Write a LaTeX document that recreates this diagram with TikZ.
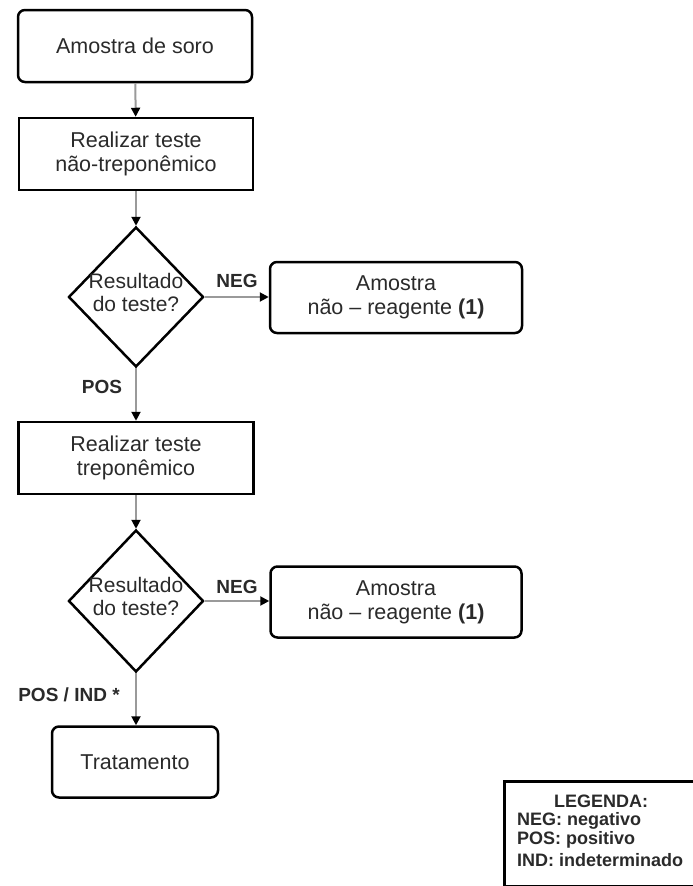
\documentclass[tikz,border=0pt]{standalone}
\usepackage{fontspec}
\setmainfont{Liberation Sans}
\usetikzlibrary{arrows.meta,shapes.geometric}
\definecolor{txt}{HTML}{2A2A2A}
\definecolor{linegray}{HTML}{9A9A9A}
\begin{document}
\begin{tikzpicture}[x=1pt,y=-1pt,
 box/.style={draw=black,line width=2.5pt,minimum width=234pt,minimum height=72pt,inner sep=0pt,align=center,font=\fontsize{21.5}{24}\selectfont,text=txt},
 rbox/.style={box,rounded corners=7pt},
 dia/.style={draw=black,line width=2.5pt,diamond,minimum width=135pt,minimum height=140pt,inner sep=0pt},
 dtext/.style={align=center,font=\fontsize{21}{23}\selectfont,text=txt,inner sep=0pt},
 lbl/.style={font=\bfseries\fontsize{19}{22}\selectfont,text=txt,inner sep=0pt},
 legtext/.style={font=\bfseries\fontsize{18}{20}\selectfont,text=txt,inner sep=0pt},
 arr/.style={draw=linegray,line width=2pt,-{Triangle[length=9pt,width=9pt,color=black]}}
]
\path[use as bounding box] (0,0) rectangle (693,886);
\clip (0,0) rectangle (693,886);

\node[rbox] (n1) at (135,46) {Amostra de soro};
\node[box] (n2) at (136,154) {Realizar teste\\não-treponêmico};
\node[dia] (d1) at (136,297) {};
\node[dtext] (t1) at (136,292) {Resultado\\do teste?};
\node[rbox,minimum width=252pt,minimum height=71pt] (r1) at (396,297.5) {Amostra\\não – reagente \textbf{(1)}};
\node[box,minimum width=235pt] (n3) at (136,458) {Realizar teste\\treponêmico};
\node[dia,minimum height=142pt] (d2) at (136,601) {};
\node[dtext] (t2) at (136,596) {Resultado\\do teste?};
\node[rbox,minimum width=251pt,minimum height=71pt] (r2) at (396,602) {Amostra\\não – reagente \textbf{(1)}};
\node[rbox,minimum width=166pt,minimum height=71pt] (n4) at (135,762) {Tratamento};

\draw[arr] (n1) -- (n2);
\draw[arr] (n2) -- (d1);
\draw[arr] (d1.east) -- (r1.west |- d1.east);
\draw[arr] (d1.south) -- (n3);
\draw[arr] (n3) -- (d2);
\draw[arr] (d2.east) -- (r2.west |- d2.east);
\draw[arr] (d2.south) -- (n4.north -| d2.south);

\node[lbl] (l1) at (237,281) {NEG};
\node[lbl] (l2) at (102,387) {POS};
\node[lbl] (l3) at (237,587) {NEG};
\node[lbl] (l4) at (69,695) {POS / IND *};

\node[draw=black,line width=2.5pt,minimum width=210pt,minimum height=105pt,anchor=north west,inner sep=0pt] (leg) at (503,780) {};
\node[legtext] (lg0) at (601,801) {LEGENDA:};
\node[legtext,anchor=west] (lg1) at (517,821) {NEG: negativo};
\node[legtext,anchor=west] (lg2) at (517,840) {POS: positivo};
\node[legtext,anchor=west] (lg3) at (517,860) {IND: indeterminado};
\end{tikzpicture}
\end{document}
